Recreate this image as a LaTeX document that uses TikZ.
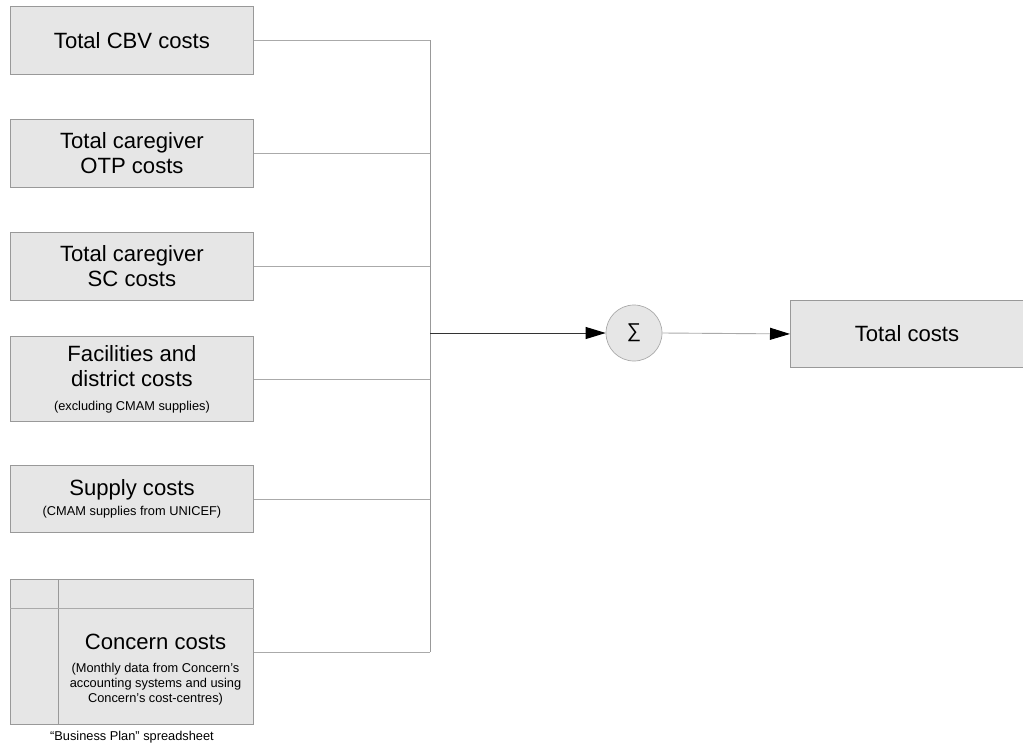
\documentclass[tikz,border=0pt]{standalone}
\usepackage{fontspec}
\setmainfont{Liberation Sans}
\usetikzlibrary{arrows.meta}
\definecolor{boxfill}{HTML}{E6E6E6}
\definecolor{boxline}{HTML}{999999}
\definecolor{wire}{HTML}{AAAAAA}
\newcommand{\bigtxt}{\fontsize{22.1}{25}\selectfont}
\newcommand{\smalltxt}{\fontsize{12.8}{14.5}\selectfont}
\begin{document}
\begin{tikzpicture}[x=1pt,y=-1pt,
  costbox/.style={draw=boxline, fill=boxfill, line width=0.9pt, minimum width=243pt,
    align=center, inner sep=0pt, anchor=north west, font=\bigtxt},
  wireline/.style={draw=wire, line width=0.9pt},
  tip/.style={-{Triangle[length=20pt,width=12pt,color=black]}}]
\useasboundingbox (0,0) rectangle (1023,744);

% input cost boxes
\node[costbox, minimum height=68pt] (cbv) at (10,6) {Total CBV costs};
\node[costbox, minimum height=68pt] (otp) at (10,119) {Total caregiver\\OTP costs};
\node[costbox, minimum height=68pt] (sc) at (10,232) {Total caregiver\\SC costs};
\node[costbox, minimum height=85pt] (fac) at (10,336)
  {Facilities and\\district costs\\[-1pt]\smalltxt (excluding CMAM supplies)};
\node[costbox, minimum height=67pt] (sup) at (10,465)
  {Supply costs\\[-5pt]\smalltxt (CMAM supplies from UNICEF)};
\node[costbox, minimum height=145pt] (con) at (10,579) {};

% spreadsheet grid lines inside the Concern box
\coordinate (gridx) at (58,0);
\coordinate (gridy) at (0,608);
\draw[draw=boxline, line width=0.9pt] (con.north -| gridx) -- (con.south -| gridx);
\draw[draw=wire, line width=0.6pt] (con.west |- gridy) -- (con.east |- gridy);
\node[align=center, inner sep=0pt, font=\bigtxt] (contxt) at (155.5,670)
  {Concern costs\\[-2pt]\smalltxt (Monthly data from Concern's\\[-10pt]\smalltxt accounting systems and using\\[-10pt]\smalltxt Concern's cost-centres)};
\node[inner sep=0pt, anchor=south, font=\smalltxt] (cap) at (con.south |- 0,743) {“Business Plan” spreadsheet};

% summation and result
\node[circle, draw=wire, fill=boxfill, line width=0.7pt, minimum size=56pt, inner sep=0pt] (sum) at (634,333)
  {\fontsize{20}{24}\selectfont ∑};
\node[costbox, minimum width=233pt, minimum height=67pt] (tot) at (790,300) {Total costs};

% collecting bus
\coordinate (bus) at (430,333);
\foreach \b in {cbv,otp,sc,fac,sup,con}
  \draw[wireline] (\b.east) -- (\b.east -| bus);
\draw[draw=boxline, line width=0.9pt] (cbv.east -| bus) -- (con.east -| bus);
\draw[line width=0.9pt, draw=black!80, tip] (bus) -- (sum.west);
\draw[wireline, tip] (sum.east) -- (tot.west);
\end{tikzpicture}
\end{document}
